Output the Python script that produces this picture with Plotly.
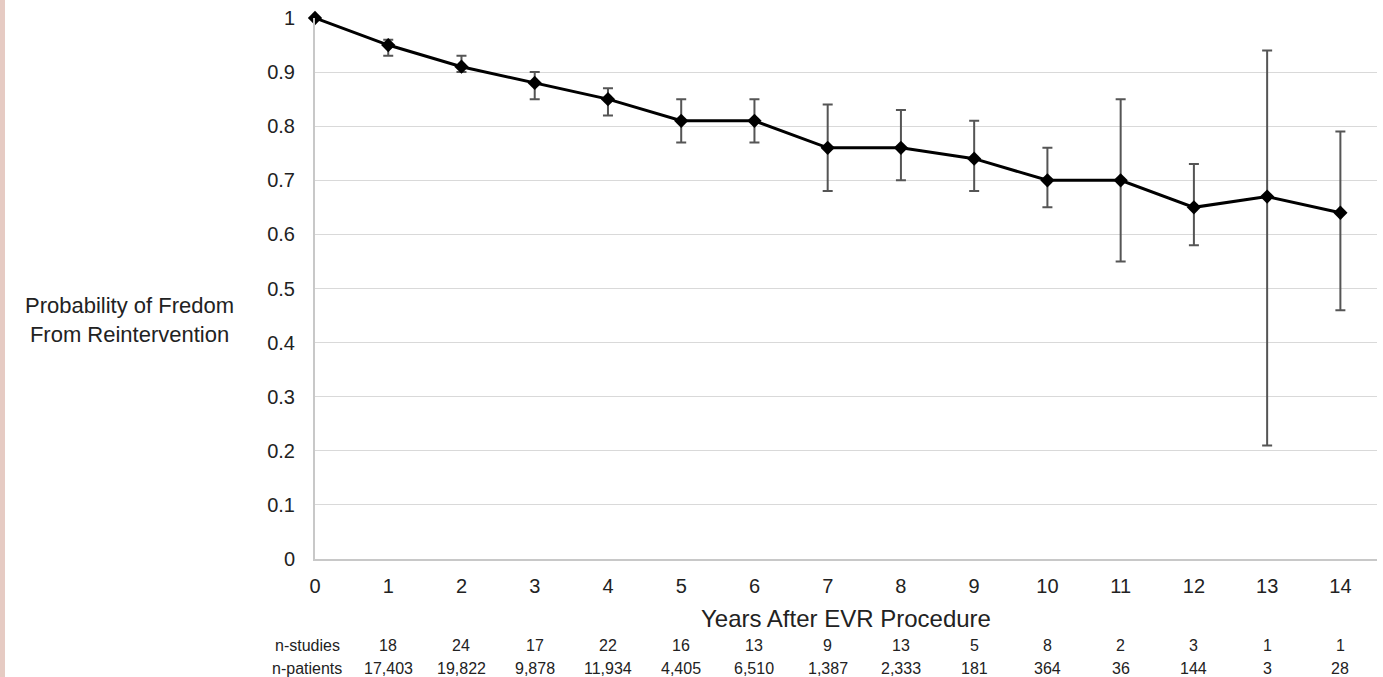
import plotly.graph_objects as go

years = list(range(15))
prob = [1.0, 0.95, 0.91, 0.88, 0.85, 0.81, 0.81, 0.76, 0.76, 0.74, 0.70, 0.70, 0.65, 0.67, 0.64]
upper = [1.0, 0.96, 0.93, 0.90, 0.87, 0.85, 0.85, 0.84, 0.83, 0.81, 0.76, 0.85, 0.73, 0.94, 0.79]
lower = [1.0, 0.93, 0.90, 0.85, 0.82, 0.77, 0.77, 0.68, 0.70, 0.68, 0.65, 0.55, 0.58, 0.21, 0.46]
n_studies = ["", "18", "24", "17", "22", "16", "13", "9", "13", "5", "8", "2", "3", "1", "1"]
n_patients = ["", "17,403", "19,822", "9,878", "11,934", "4,405", "6,510", "1,387", "2,333",
              "181", "364", "36", "144", "3", "28"]
y_ticks = [0, 0.1, 0.2, 0.3, 0.4, 0.5, 0.6, 0.7, 0.8, 0.9, 1]
y_tick_text = ["0", "0.1", "0.2", "0.3", "0.4", "0.5", "0.6", "0.7", "0.8", "0.9", "1"]

err_plus = [None if i == 0 else u - p for i, u, p in zip(years, upper, prob)]
err_minus = [None if i == 0 else p - l for i, p, l in zip(years, prob, lower)]

W, H = 1383, 677
L, R, T, B = 315, 6, 18, 118
PW, PH = W - L - R, H - T - B


def px_x(x):
    return (x - L) / PW


def px_y(y):
    return (H - B - y) / PH


fig = go.Figure()
fig.add_trace(go.Scatter(
    x=years, y=prob, mode="lines+markers",
    line=dict(color="black", width=3),
    marker=dict(symbol="diamond", size=11, color="black"),
    error_y=dict(type="data", symmetric=False, array=err_plus, arrayminus=err_minus,
                 color="#555555", thickness=2, width=5),
    cliponaxis=False, showlegend=False,
))

font_main = "Liberation Sans, Arial, sans-serif"
txt = "#222222"

fig.update_layout(
    width=W, height=H,
    margin=dict(l=L, r=R, t=T, b=B),
    paper_bgcolor="white", plot_bgcolor="white",
    font=dict(family=font_main, color=txt),
    xaxis=dict(range=[0, 14.5], tickmode="array", tickvals=years,
               ticktext=[str(y) for y in years], showgrid=False,
               showline=True, linecolor="#c8c8c8", linewidth=2,
               tickfont=dict(size=20, family=font_main, color=txt),
               ticks="", ticklabelstandoff=8, zeroline=False),
    yaxis=dict(range=[0, 1], tickmode="array", tickvals=y_ticks, ticktext=y_tick_text,
               showgrid=True, gridcolor="#d9d9d9", gridwidth=1,
               showline=True, linecolor="#c8c8c8", linewidth=2,
               tickfont=dict(size=20, family=font_main, color=txt),
               ticks="", ticklabelstandoff=14, zeroline=False),
)

# Y axis title (horizontal)
fig.add_annotation(
    xref="paper", yref="paper", x=px_x(130), y=px_y(320), xanchor="center", yanchor="middle",
    text="Probability of Fredom<br>From Reintervention", showarrow=False, align="center",
    font=dict(size=22, family=font_main, color=txt),
)
# X axis title
fig.add_annotation(
    xref="paper", yref="paper", x=0.5, y=px_y(618), xanchor="center", yanchor="middle",
    text="Years After EVR Procedure", showarrow=False,
    font=dict(size=24, family=font_main, color=txt),
)
# Table rows
row_y = {"n-studies": px_y(645), "n-patients": px_y(668)}
for label, vals in (("n-studies", n_studies), ("n-patients", n_patients)):
    fig.add_annotation(xref="paper", yref="paper", x=px_x(307), y=row_y[label],
                       xanchor="center", yanchor="middle", text=label, showarrow=False,
                       font=dict(size=16, family=font_main, color=txt))
    for xv, v in zip(years, vals):
        if v:
            fig.add_annotation(xref="x", yref="paper", x=xv, y=row_y[label],
                               xanchor="center", yanchor="middle", text=v, showarrow=False,
                               font=dict(size=16, family=font_main, color=txt))

# Left pink strip
fig.add_shape(type="rect", xref="paper", yref="paper", x0=px_x(0), x1=px_x(5),
              y0=px_y(H), y1=px_y(0), fillcolor="#e6cbc3", line=dict(width=0),
              layer="below")

fig.write_html("out.html", config={"displayModeBar": False},
               post_script="document.body.style.margin='0';")
